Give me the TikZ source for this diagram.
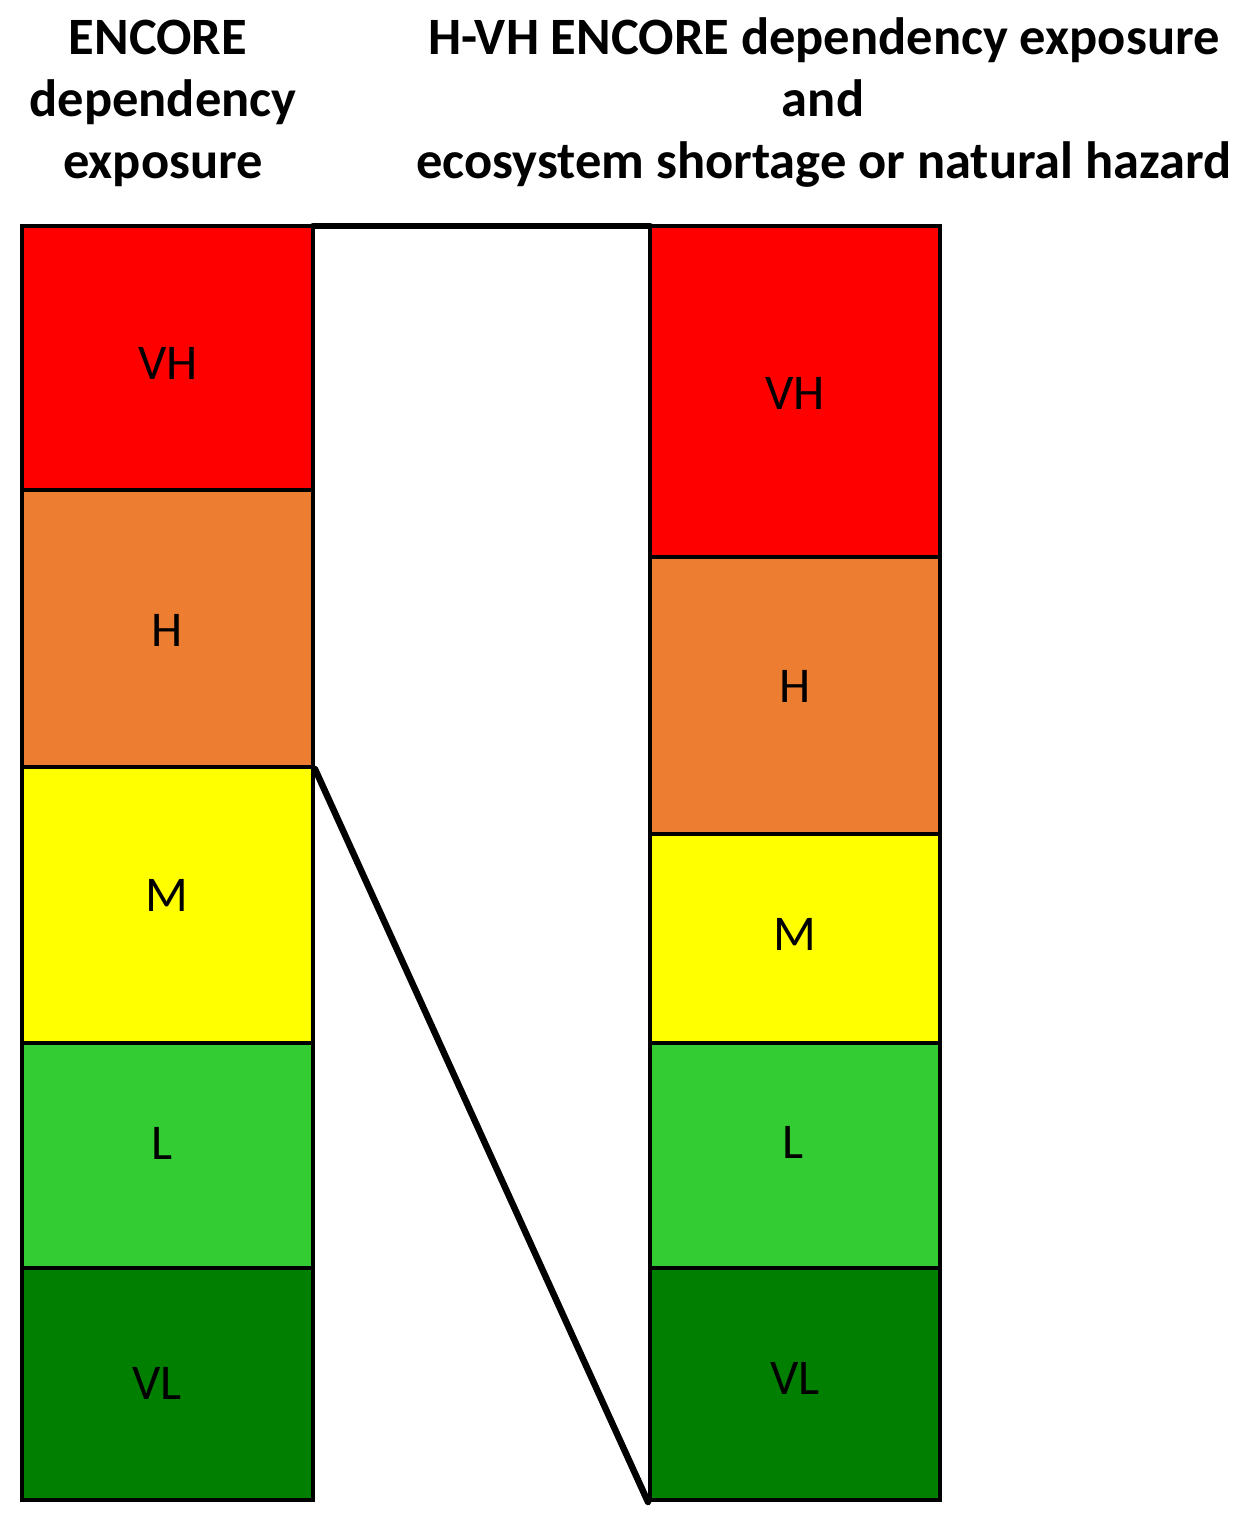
\documentclass[tikz,border=0pt]{standalone}
\usepackage{fontspec}
\setmainfont{Carlito}
\definecolor{cVH}{HTML}{FF0000}
\definecolor{cH}{HTML}{ED7D31}
\definecolor{cM}{HTML}{FFFF00}
\definecolor{cL}{HTML}{33CC33}
\definecolor{cVL}{HTML}{007F00}
\begin{document}
\begin{tikzpicture}[x=1pt,y=-1pt,
  cell/.style={draw=black,line width=4pt,inner sep=0pt,minimum width=291pt},
  lab/.style={font=\fontsize{50}{60}\selectfont,inner sep=0pt},
  ttl/.style={font=\fontsize{52.5}{63}\selectfont\bfseries,inner sep=0pt,anchor=base},
  conn/.style={line width=6.5pt,line cap=round}]
\useasboundingbox (0,0) rectangle (1253,1519);
% titles
\node[ttl] (t1) at (158,54) {ENCORE};
\node[ttl] (t2) at (163,116) {dependency};
\node[ttl] (t3) at (163,178) {exposure};
\node[ttl] (t4) at (824,54) {H-VH ENCORE dependency exposure};
\node[ttl] (t5) at (823,116) {and};
\node[ttl] (t6) at (824,178) {ecosystem shortage or natural hazard};
% connectors (behind the cells)
\coordinate (topL) at (313,226);
\coordinate (topR) at (650,226);
\draw[conn] (topL) -- (topR);
% left column
\node[cell,fill=cVH,minimum height=264pt] (lVH) at (167.5,358) {};
\node[cell,fill=cH,minimum height=277pt] (lH) at (167.5,628.5) {};
\node[cell,fill=cM,minimum height=276pt] (lM) at (167.5,905) {};
\node[cell,fill=cL,minimum height=225pt] (lL) at (167.5,1155.5) {};
\node[cell,fill=cVL,minimum height=232pt] (lVL) at (167.5,1384) {};
% right column
\node[cell,fill=cVH,minimum height=331pt,minimum width=290pt] (rVH) at (795,391.5) {};
\node[cell,fill=cH,minimum height=277pt,minimum width=290pt] (rH) at (795,695.5) {};
\node[cell,fill=cM,minimum height=209pt,minimum width=290pt] (rM) at (795,938.5) {};
\node[cell,fill=cL,minimum height=225pt,minimum width=290pt] (rL) at (795,1155.5) {};
\node[cell,fill=cVL,minimum height=232pt,minimum width=290pt] (rVL) at (795,1384) {};
% labels
\node[lab] (xlVH) at (168,363) {VH};
\node[lab] (xlH) at (167,630) {H};
\node[lab] (xlM) at (167,895) {M};
\node[lab] (xlL) at (162,1143) {L};
\node[lab] (xlVL) at (157,1383) {VL};
\node[lab] (xrVH) at (795,393) {VH};
\node[lab] (xrH) at (795,686) {H};
\node[lab] (xrM) at (795,934) {M};
\node[lab] (xrL) at (793,1142) {L};
\node[lab] (xrVL) at (795,1378) {VL};
% diagonal connector
\draw[conn] (lH.south east) -- (rVL.south west);
\end{tikzpicture}
\end{document}
